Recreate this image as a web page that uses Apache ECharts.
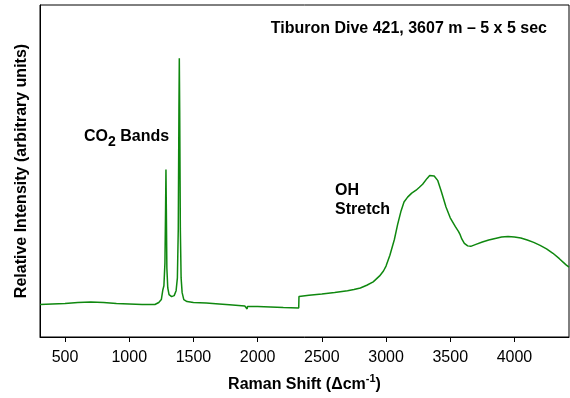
<!DOCTYPE html>
<html>
<head>
<meta charset="utf-8">
<script src="https://cdn.jsdelivr.net/npm/echarts@6/dist/echarts.min.js"></script>
<style>
  html, body { margin: 0; padding: 0; background: #fff; }
  #chart { width: 570px; height: 398px; }
</style>
</head>
<body>
<div id="chart"></div>
<script>
// Raman shift (cm-1) and relative intensity
const ramanShift = [
  305, 400, 500, 600, 700, 800, 900, 1000, 1100, 1200, 1230, 1250, 1262, 1270, 1278,
  1283, 1286, 1289, 1293, 1300, 1310, 1330, 1350, 1365, 1375, 1382, 1387, 1390, 1393,
  1398, 1404, 1412, 1425, 1450, 1500, 1600, 1700, 1780, 1900, 1915, 1918, 1921, 2000,
  2100, 2200, 2320, 2322, 2400, 2500, 2600, 2700, 2750, 2800, 2850, 2900, 2950, 2980,
  3000, 3030, 3065, 3090, 3117, 3140, 3168, 3200, 3234, 3260, 3285, 3320, 3340, 3355,
  3375, 3402, 3430, 3467, 3500, 3540, 3565, 3575, 3590, 3610, 3636, 3660, 3700, 3750,
  3800, 3850, 3900, 3950, 4000, 4050, 4100, 4150, 4200, 4250, 4300, 4350, 4400, 4425
];
const intensity = [
  33, 33.5, 34, 35, 35.5, 35, 34, 33.5, 33, 33, 35, 38, 48, 52, 75,
  130, 170, 130, 70, 50, 43, 41, 42, 47, 60, 110, 230, 283, 230,
  110, 60, 45, 38, 36, 35, 34.5, 33.5, 32.7, 31.5, 31, 28.5, 31, 31,
  30.5, 30, 29.5, 41, 42.3, 43.7, 45.2, 47, 48.2, 49.8, 52.5, 56, 62, 67,
  72, 83, 99, 114, 128, 137, 142, 146, 149, 152, 155, 161, 164, 165,
  163.5, 159, 148, 132, 121, 112, 107, 104.5, 99.5, 95, 92.5, 92, 94, 96.5,
  98.5, 100, 101.5, 102, 101.5, 100.5, 98.5, 96, 93, 89.5, 85, 79.5, 73.5, 71
];
const tickValues = [500, 1000, 1500, 2000, 2500, 3000, 3500, 4000];

const titleText = 'Tiburon Dive 421, 3607 m \u2013 5 x 5 sec';
const font = 'Liberation Sans, Arial, sans-serif';

const chart = echarts.init(document.getElementById('chart'));

chart.setOption({
  animation: false,
  grid: {
    left: 40, right: 1, top: 5, bottom: 56,
    show: true, borderColor: '#000', borderWidth: 1, backgroundColor: 'transparent'
  },
  xAxis: {
    type: 'value',
    min: 305,
    max: 4425,
    name: '{a|Raman Shift (\u0394cm}{s|-1}{a|)}',
    nameLocation: 'middle',
    nameGap: 36,
    nameTextStyle: {
      rich: {
        a: { fontFamily: font, fontSize: 16, fontWeight: 'bold', color: '#000', lineHeight: 20, verticalAlign: 'bottom' },
        s: { fontFamily: font, fontSize: 11, fontWeight: 'bold', color: '#000', lineHeight: 20, verticalAlign: 'top' }
      }
    },
    axisLine: { lineStyle: { color: '#000', width: 1 } },
    axisTick: { show: true, length: 5, lineStyle: { color: '#000' }, customValues: tickValues },
    axisLabel: {
      fontFamily: font, fontSize: 16, color: '#000', margin: 13,
      customValues: tickValues,
      formatter: (v) => String(v)
    },
    splitLine: { show: false }
  },
  yAxis: {
    type: 'value',
    min: 0,
    max: 337,
    name: 'Relative Intensity (arbitrary units)',
    nameLocation: 'middle',
    nameGap: 10,
    nameTextStyle: { fontFamily: font, fontSize: 16, fontWeight: 'bold', color: '#000' },
    axisLine: { show: true, lineStyle: { color: '#000', width: 1 } },
    axisTick: { show: false },
    axisLabel: { show: false },
    splitLine: { show: false }
  },
  series: [{
    type: 'line',
    data: ramanShift.map((x, i) => [x, intensity[i]]),
    showSymbol: false,
    lineStyle: { color: '#0f880f', width: 1.5 },
    z: 3
  }],
  graphic: [
    {
      type: 'text', right: 23, top: 21,
      style: { text: titleText, fontFamily: font, fontSize: 16, fontWeight: 'bold', fill: '#000' }
    },
    {
      type: 'text', left: 84, top: 129,
      style: {
        text: '{a|CO}{b|2}{a| Bands}',
        rich: {
          a: { fontFamily: font, fontSize: 16, fontWeight: 'bold', fill: '#000', lineHeight: 20, verticalAlign: 'top' },
          b: { fontFamily: font, fontSize: 14, fontWeight: 'bold', fill: '#000', lineHeight: 20, verticalAlign: 'bottom' }
        }
      }
    },
    {
      type: 'text', left: 335, top: 181,
      style: { text: 'OH\nStretch', fontFamily: font, fontSize: 16, fontWeight: 'bold', fill: '#000', lineHeight: 19 }
    }
  ]
});
</script>
</body>
</html>
